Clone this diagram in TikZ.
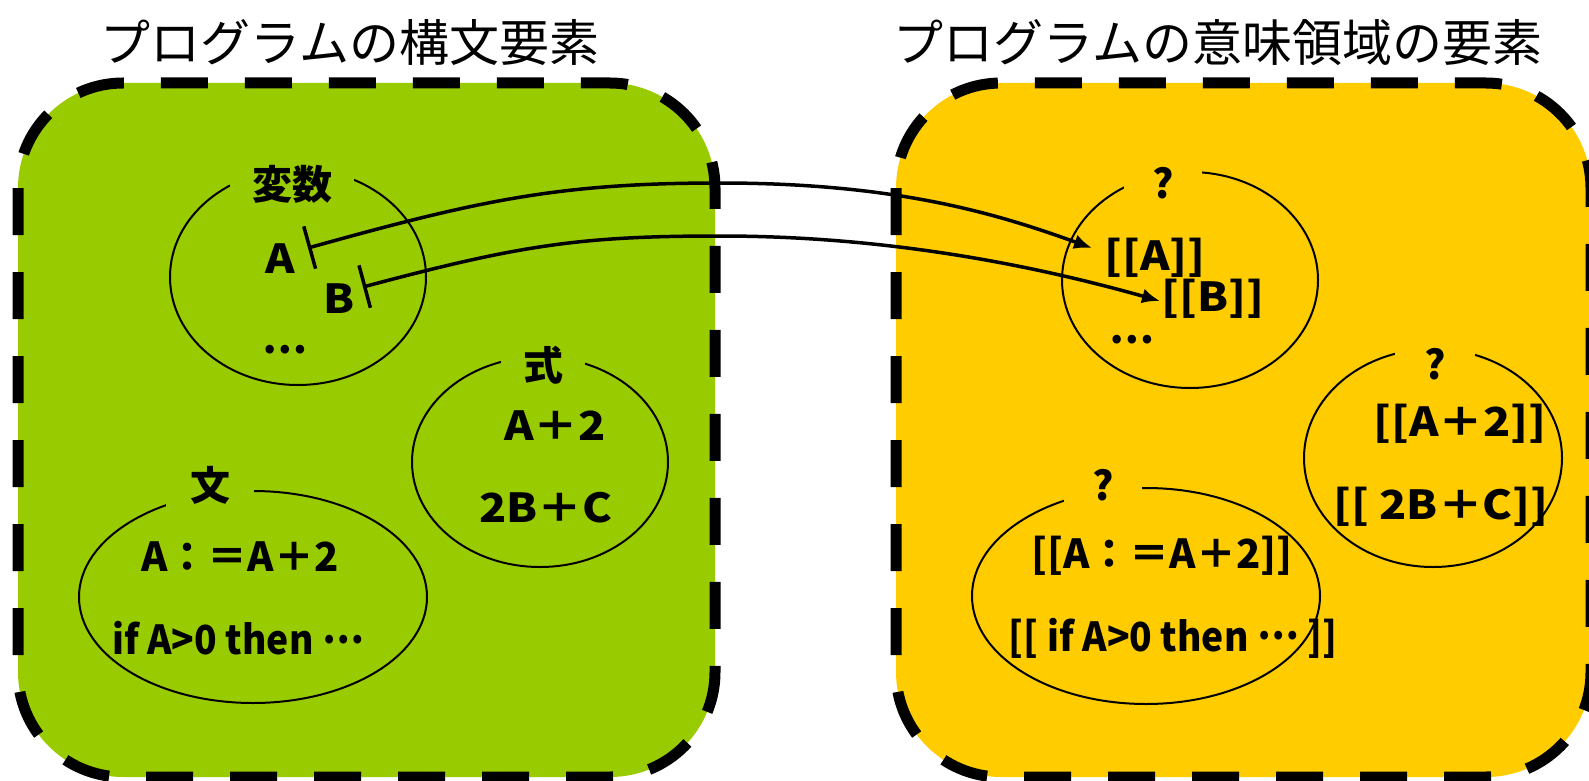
\documentclass[tikz,border=0pt]{standalone}
\usepackage{fontspec}
\setmainfont{Noto Sans CJK JP}
\newfontfamily\widefont[FakeStretch=1.12]{Noto Sans CJK JP}
\newfontfamily\narrowfont[FakeStretch=0.93]{Noto Sans CJK JP}
\newcommand\middots{\raisebox{0.28em}{…}}
\usetikzlibrary{arrows.meta}
\definecolor{boxgreen}{RGB}{153,204,0}
\definecolor{boxyellow}{RGB}{255,204,0}
\begin{document}
\begin{tikzpicture}[x=1pt,y=-1pt,
  region/.style={line width=11pt, dash pattern=on 47pt off 37pt, rounded corners=105pt},
  setell/.style={line width=2pt},
  title/.style={font=\fontsize{50}{60}\selectfont, inner sep=0pt},
  lbl/.style={font=\fontsize{40}{48}\selectfont\bfseries, inner ysep=4pt},
  item/.style={font=\fontsize{40}{48}\selectfont\bfseries, inner sep=0pt},
  wide/.style={font=\widefont\fontsize{40}{48}\selectfont\bfseries, inner sep=0pt},
  narrow/.style={font=\narrowfont\fontsize{40}{48}\selectfont\bfseries, inner sep=0pt},
  link/.style={line width=3.5pt, {Bar[width=44pt]}-{Latex[length=18pt,width=15pt]}}
]
\useasboundingbox (0,0) rectangle (1589,781);
% regions
\draw[region, fill=boxgreen] (18,83) rectangle (715,777);
\draw[region, fill=boxyellow] (896,83) rectangle (1591,777);
% titles
\node[title] (t1) at (350,43) {プログラムの構文要素};
\node[title] (t2) at (1218,43) {プログラムの意味領域の要素};
% left ellipses
\draw[setell] (298,277) ellipse [x radius=128pt, y radius=108pt];
\node[lbl, fill=boxgreen, inner xsep=22pt] (hensu) at (292,184) {変数};
\draw[setell] (540,462) ellipse [x radius=128pt, y radius=105pt];
\node[lbl, fill=boxgreen, inner xsep=22pt] (shiki) at (543,365) {式};
\draw[setell] (253,597) ellipse [x radius=174pt, y radius=106pt];
\node[lbl, fill=boxgreen, inner xsep=24pt] (bun) at (210,485) {文};
% left items
\node[wide] (A) at (280,259) {A};
\node[wide] (B) at (339,299) {B};
\node[item] (ldots) at (285,350) {…};
\node[wide] (e1) at (555,426) {A＋2};
\node[wide] (e2) at (546,508) {2B＋C};
\node[item] (s1) at (240,557) {A：＝A＋2};
\node[narrow] (s2) at (238,638) {if A>0 then \middots};
% right ellipses
\draw[setell] (1190,280) ellipse [x radius=128pt, y radius=108pt];
\node[lbl, fill=boxyellow, inner xsep=28pt] (q1) at (1163,183) {?};
\draw[setell] (1433,458) ellipse [x radius=129pt, y radius=109pt];
\node[lbl, fill=boxyellow, inner xsep=29pt] (q2) at (1435,364) {?};
\draw[setell] (1146,596) ellipse [x radius=174pt, y radius=108pt];
\node[lbl, fill=boxyellow, inner xsep=28pt] (q3) at (1103,485) {?};
% right items
\node[wide] (mA) at (1155,258) {[[A]]};
\node[wide] (mB) at (1213,299) {[[B]]};
\node[item] (rdots) at (1132,340) {…};
\node[wide] (me1) at (1460,424) {[[A＋2]]};
\node[wide] (me2) at (1441,507) {[[ 2B＋C]]};
\node[item] (ms1) at (1162,556) {[[A：＝A＋2]]};
\node[narrow] (ms2) at (1173,638) {[[ if A>0 then \middots\ ]]};
% connectors
\coordinate (As) at (308,248);
\coordinate (Ae) at (1092,248);
\coordinate (Bs) at (363,287);
\coordinate (Be) at (1160,301);
\draw[link] (As) .. controls (480,200) and (560,183) .. (720,183) .. controls (900,183) and (1000,215) .. (Ae);
\draw[link] (Bs) .. controls (520,245) and (580,236) .. (720,236) .. controls (900,236) and (1050,270) .. (Be);
\end{tikzpicture}
\end{document}
